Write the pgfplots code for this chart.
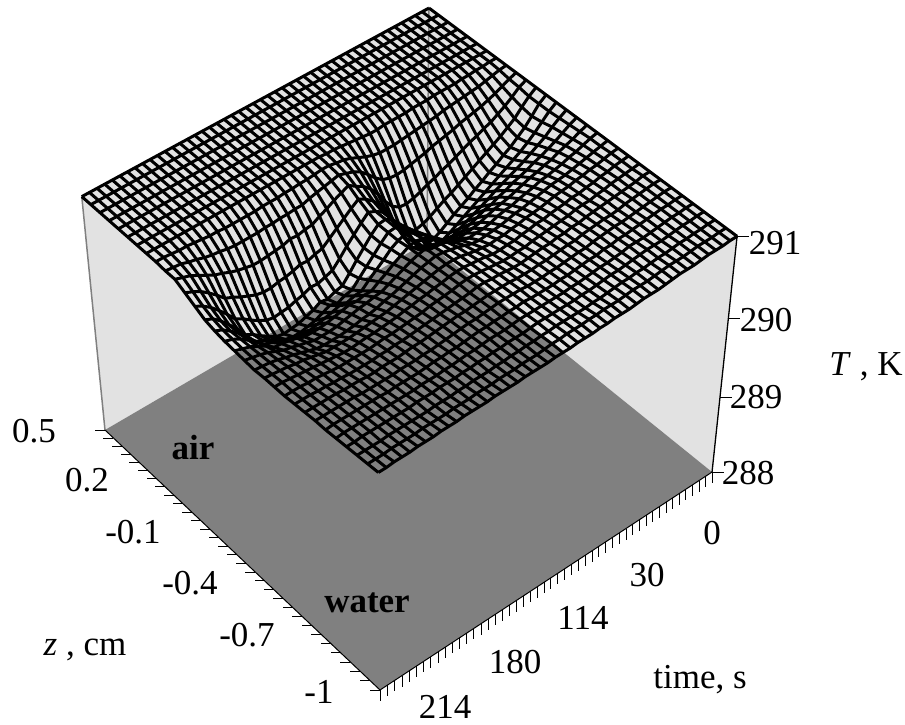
\documentclass[border=0pt]{standalone}
\usepackage{fontspec}
\setmainfont{Liberation Serif}
\usepackage{pgfplots}
\usepackage{pgfplotstable}
\pgfplotsset{compat=1.18}
\definecolor{wallc}{HTML}{E2E2E2}
\definecolor{floorc}{HTML}{808080}
\pgfdeclareplotmark{tickL}{\pgfpathmoveto{\pgfpointorigin}\pgfpathlineto{\pgfpoint{-10pt}{0pt}}\pgfusepathqstroke}
\pgfdeclareplotmark{tickD}{\pgfpathmoveto{\pgfpointorigin}\pgfpathlineto{\pgfpoint{0pt}{-11pt}}\pgfusepathqstroke}
\pgfdeclareplotmark{tickR}{\pgfpathmoveto{\pgfpointorigin}\pgfpathlineto{\pgfpoint{12pt}{0pt}}\pgfusepathqstroke}
% T (K): one line per z (0.5 ... -1 cm, step 0.05), one column per time tick (0 ... 48)
\pgfplotstableread[header=false]{291 291 291 291 291 291 291 291 291 291 291 291 291 291 291 291 291 291 291 291 291 291 291 291 291 291 291 291 291 291 291 291 291 291 291 291 291 291 291 291 291 291 291 291 291 291 291 291 291
291 291 291 291 291 291 291 291 291 291 291 291 291 291 291 291 291 291 291 291 291 291 291 291 291 291 291 291 291 291 291 291 291 291 291 291 291 291 291 291 291 291 291 291 291 291 291 291 291
291 291 291 291 291 291 291 291 291 291 291 291 291 291 291 291 291 291 291 291 291 291 291 291 291 291 291 291 291 291 291 291 291 291 291 291 291 291 291 291 291 291 291 291 291 291 291 291 291
291 291 291 291 291 291 291 291 291 291 291 291 291 291 291 291 291 291 291 291 291 291 291 291 291 291 291 291 291 291 291 291 291 291 291 291 291 291 291 291 291 291 291 291 291 291 291 291 291
291 291 291 291 291 291 291 291 291 291 291 291 291 291 291 291 291 291 291 291 291 291 291 291 291 291 291 291 291 291 291 291 291 291 291 291 291 291 291 291 291 291 291 291 291 291 291 291 291
291 291 291 291 291 291 291 291 291 291 291 291 291 291 291 291 291 291 291 291 291 291 291 291 291 291 291 291 291 291 291 291 291 291 291 291 291 291 291 291 291 291 291 291 291 291 291 291 291
291 291 291 291 291 291 291 291 291 291 291 291 291 291 291 291 291 291 291 291 291 291 291 291 291 291 291 291 291 291 291 291 291 291 291 291 291 291 291 291 291 291 291 291 291 291 291 291 291
291.00 291.00 290.99 290.99 290.98 290.98 290.97 290.97 290.97 290.97 290.96 290.96 290.96 290.95 290.95 290.95 290.95 290.94 290.94 290.95 290.96 290.97 290.98 290.99 290.99 291 291 291 291 291 291 291 291 291 291 291 291 291 291 291 291 291 291 291 291 291 291 291 291
291.00 290.99 290.97 290.95 290.93 290.92 290.91 290.90 290.89 290.88 290.86 290.85 290.84 290.83 290.82 290.81 290.80 290.80 290.80 290.82 290.85 290.89 290.93 290.96 290.97 290.99 290.99 290.98 290.97 290.97 290.96 290.96 290.95 290.95 290.95 290.94 290.94 290.94 290.94 290.94 290.95 290.95 290.96 290.97 290.98 290.98 290.99 291.00 291.00
291.00 290.97 290.93 290.89 290.86 290.83 290.81 290.79 290.77 290.74 290.72 290.70 290.68 290.65 290.63 290.61 290.59 290.58 290.59 290.62 290.69 290.78 290.86 290.91 290.94 290.97 290.95 290.93 290.91 290.89 290.86 290.86 290.85 290.85 290.84 290.84 290.83 290.83 290.83 290.83 290.84 290.86 290.87 290.89 290.92 290.94 290.97 290.98 290.99
291.00 290.96 290.89 290.83 290.78 290.73 290.70 290.66 290.63 290.59 290.55 290.51 290.48 290.44 290.41 290.37 290.34 290.32 290.33 290.39 290.50 290.64 290.75 290.83 290.88 290.94 290.90 290.86 290.81 290.77 290.72 290.71 290.69 290.70 290.67 290.66 290.65 290.64 290.64 290.66 290.68 290.71 290.75 290.78 290.83 290.88 290.93 290.96 290.99
291.00 290.94 290.86 290.77 290.71 290.65 290.60 290.55 290.50 290.45 290.40 290.35 290.30 290.26 290.21 290.16 290.12 290.10 290.10 290.17 290.32 290.50 290.65 290.75 290.82 290.87 290.81 290.74 290.67 290.60 290.53 290.51 290.48 290.49 290.46 290.44 290.43 290.41 290.41 290.43 290.47 290.51 290.56 290.60 290.69 290.77 290.84 290.89 290.93
291.00 290.94 290.84 290.75 290.68 290.61 290.56 290.50 290.45 290.39 290.34 290.28 290.23 290.18 290.12 290.06 290.02 290.00 290.00 290.08 290.24 290.43 290.59 290.71 290.77 290.81 290.73 290.64 290.55 290.45 290.36 290.33 290.30 290.31 290.27 290.25 290.22 290.21 290.20 290.22 290.27 290.33 290.40 290.45 290.56 290.66 290.75 290.82 290.87
291.00 290.94 290.86 290.78 290.71 290.65 290.60 290.55 290.50 290.45 290.40 290.35 290.30 290.25 290.20 290.15 290.11 290.09 290.09 290.16 290.30 290.47 290.61 290.71 290.77 290.76 290.68 290.58 290.48 290.37 290.27 290.25 290.21 290.23 290.18 290.15 290.12 290.11 290.10 290.12 290.18 290.24 290.31 290.36 290.49 290.59 290.69 290.77 290.81
291.00 290.95 290.89 290.82 290.77 290.72 290.67 290.63 290.59 290.55 290.51 290.46 290.42 290.38 290.34 290.30 290.26 290.25 290.25 290.30 290.41 290.54 290.65 290.73 290.77 290.76 290.68 290.59 290.50 290.41 290.32 290.30 290.26 290.29 290.25 290.21 290.19 290.17 290.17 290.19 290.24 290.29 290.34 290.38 290.49 290.59 290.67 290.74 290.78
291.00 290.96 290.91 290.86 290.82 290.78 290.75 290.71 290.68 290.65 290.61 290.58 290.54 290.52 290.48 290.45 290.42 290.41 290.40 290.44 290.52 290.62 290.70 290.75 290.79 290.76 290.71 290.63 290.56 290.49 290.41 290.40 290.37 290.39 290.36 290.34 290.32 290.30 290.30 290.31 290.34 290.39 290.42 290.45 290.54 290.61 290.68 290.73 290.76
291.00 290.97 290.93 290.90 290.87 290.83 290.81 290.78 290.76 290.73 290.70 290.67 290.65 290.63 290.60 290.57 290.55 290.54 290.53 290.56 290.61 290.68 290.74 290.78 290.80 290.78 290.73 290.68 290.62 290.57 290.51 290.51 290.49 290.50 290.48 290.46 290.44 290.43 290.43 290.43 290.47 290.49 290.51 290.52 290.59 290.64 290.69 290.72 290.75
291.00 290.98 290.95 290.92 290.90 290.87 290.85 290.83 290.82 290.79 290.77 290.75 290.72 290.71 290.69 290.66 290.64 290.64 290.63 290.65 290.68 290.73 290.77 290.79 290.81 290.79 290.76 290.72 290.68 290.64 290.60 290.59 290.57 290.56 290.54 290.52 290.50 290.49 290.49 290.49 290.52 290.54 290.57 290.59 290.63 290.67 290.70 290.72 290.74
291.00 290.98 290.96 290.94 290.92 290.90 290.88 290.87 290.86 290.84 290.82 290.80 290.78 290.77 290.75 290.73 290.72 290.71 290.70 290.71 290.74 290.77 290.79 290.81 290.82 290.80 290.78 290.75 290.72 290.69 290.66 290.64 290.61 290.59 290.58 290.56 290.55 290.54 290.54 290.54 290.55 290.58 290.61 290.64 290.66 290.69 290.71 290.72 290.73
291.00 290.99 290.97 290.95 290.94 290.92 290.91 290.89 290.88 290.87 290.85 290.83 290.82 290.81 290.79 290.78 290.76 290.76 290.75 290.76 290.77 290.79 290.81 290.82 290.82 290.81 290.79 290.77 290.75 290.73 290.71 290.69 290.67 290.66 290.65 290.64 290.63 290.62 290.62 290.62 290.62 290.64 290.66 290.68 290.69 290.71 290.72 290.73 290.74
291.00 290.99 290.98 290.96 290.95 290.93 290.92 290.90 290.90 290.88 290.87 290.86 290.84 290.84 290.82 290.81 290.79 290.79 290.78 290.78 290.80 290.81 290.82 290.83 290.83 290.82 290.80 290.79 290.77 290.76 290.74 290.73 290.71 290.70 290.69 290.68 290.68 290.67 290.66 290.66 290.67 290.68 290.69 290.70 290.71 290.72 290.73 290.74 290.74
291.00 290.99 290.98 290.97 290.96 290.94 290.93 290.91 290.91 290.90 290.88 290.87 290.86 290.85 290.84 290.83 290.81 290.81 290.80 290.80 290.81 290.82 290.83 290.84 290.84 290.83 290.81 290.80 290.79 290.78 290.76 290.75 290.74 290.73 290.72 290.72 290.71 290.70 290.70 290.70 290.70 290.70 290.71 290.72 290.73 290.73 290.74 290.74 290.74
291.00 291.00 290.98 290.97 290.96 290.95 290.94 290.93 290.92 290.91 290.89 290.89 290.87 290.87 290.85 290.85 290.84 290.83 290.82 290.82 290.83 290.84 290.84 290.85 290.85 290.83 290.82 290.81 290.80 290.79 290.78 290.77 290.76 290.75 290.74 290.74 290.73 290.73 290.72 290.72 290.72 290.72 290.73 290.73 290.74 290.74 290.75 290.75 290.75
291.00 291.00 290.99 290.98 290.97 290.96 290.94 290.93 290.93 290.92 290.91 290.90 290.88 290.88 290.87 290.86 290.85 290.85 290.84 290.84 290.84 290.85 290.85 290.85 290.85 290.84 290.83 290.82 290.82 290.81 290.80 290.79 290.78 290.77 290.77 290.76 290.75 290.75 290.75 290.74 290.74 290.75 290.75 290.75 290.76 290.76 290.76 290.76 290.76
291.00 291.00 290.99 290.98 290.97 290.96 290.95 290.94 290.94 290.93 290.92 290.91 290.89 290.89 290.88 290.87 290.86 290.86 290.85 290.85 290.85 290.86 290.86 290.86 290.86 290.85 290.84 290.83 290.83 290.82 290.81 290.80 290.79 290.78 290.78 290.77 290.77 290.77 290.76 290.76 290.76 290.76 290.76 290.77 290.77 290.77 290.77 290.77 290.77
291.00 291.00 290.99 290.99 290.98 290.97 290.96 290.95 290.94 290.94 290.92 290.92 290.90 290.90 290.89 290.88 290.87 290.87 290.86 290.86 290.86 290.86 290.87 290.86 290.86 290.85 290.85 290.84 290.84 290.83 290.82 290.81 290.81 290.80 290.80 290.79 290.78 290.78 290.78 290.78 290.77 290.78 290.78 290.78 290.78 290.78 290.78 290.78 290.77
291.00 291.00 290.99 290.99 290.98 290.97 290.96 290.95 290.95 290.95 290.93 290.92 290.91 290.91 290.90 290.89 290.88 290.88 290.87 290.87 290.87 290.87 290.87 290.87 290.87 290.86 290.85 290.85 290.85 290.84 290.83 290.83 290.82 290.81 290.81 290.80 290.80 290.80 290.79 290.79 290.79 290.79 290.79 290.79 290.79 290.79 290.79 290.79 290.78
291.00 291.00 290.99 290.99 290.98 290.97 290.96 290.96 290.96 290.95 290.94 290.93 290.92 290.92 290.91 290.90 290.89 290.89 290.88 290.88 290.88 290.88 290.88 290.88 290.87 290.86 290.86 290.86 290.85 290.85 290.84 290.84 290.83 290.83 290.82 290.82 290.82 290.81 290.81 290.81 290.80 290.80 290.80 290.80 290.80 290.80 290.80 290.79 290.79
291.00 291.00 290.99 290.99 290.98 290.98 290.97 290.96 290.96 290.95 290.94 290.94 290.93 290.93 290.92 290.91 290.90 290.90 290.89 290.89 290.89 290.89 290.89 290.88 290.88 290.87 290.87 290.86 290.86 290.85 290.85 290.84 290.84 290.84 290.83 290.83 290.82 290.82 290.82 290.81 290.81 290.81 290.81 290.81 290.81 290.80 290.80 290.80 290.80
291.00 291.00 290.99 290.99 290.99 290.98 290.97 290.97 290.97 290.96 290.95 290.94 290.94 290.94 290.93 290.92 290.92 290.92 290.91 290.91 290.90 290.90 290.90 290.89 290.89 290.88 290.87 290.87 290.87 290.86 290.86 290.86 290.85 290.85 290.85 290.84 290.84 290.84 290.83 290.83 290.83 290.83 290.82 290.82 290.82 290.82 290.81 290.81 290.81
291.00 291.00 290.99 290.99 290.99 290.98 290.97 290.97 290.97 290.96 290.95 290.94 290.94 290.94 290.93 290.92 290.92 290.92 290.91 290.91 290.90 290.90 290.90 290.89 290.89 290.89 290.88 290.88 290.88 290.88 290.87 290.87 290.87 290.87 290.86 290.86 290.86 290.86 290.85 290.85 290.85 290.84 290.84 290.84 290.83 290.83 290.83 290.82 290.82
}\Ttab
\pgfplotstabletranspose\TtabT{\Ttab}
\pgfplotsset{
  /pgfplots/table/cube/.style={
    x expr={cx(\thisrow{s},\thisrow{r},\thisrow{w})},
    y expr={cy(\thisrow{s},\thisrow{r},\thisrow{w})}},
  gridline/.style={black,line width=3pt,line join=round,no marks,forget plot}
}
\begin{document}
\begin{tikzpicture}[every node/.style={font=\fontsize{35}{38}\selectfont,inner sep=0pt,text=black}]
\useasboundingbox (0,0) rectangle (905pt,724pt);
\begin{axis}[scale only axis,width=905pt,height=724pt,
  xmin=0,xmax=905,ymin=0,ymax=724,hide axis,clip=false,
  declare function={
    cd(\a,\b,\c)=1-0.0532*\a-0.0742*\b-0.0689*\c;
    cx(\a,\b,\c)=(427-327.6*\a+232.2*\b-27.6*\c)/cd(\a,\b,\c);
    cy(\a,\b,\c)=724-(242+165.1*\a+195*\b-234.5*\c)/cd(\a,\b,\c);
  }]
% walls
\addplot[fill=wallc,draw=none,forget plot] table[cube]{
s r w
1 0 0
1 0 1
0 0 1
0 0 0
} --cycle;
\addplot[fill=wallc,draw=none,forget plot] table[cube]{
s r w
0 0 0
0 0 1
0 1 1
0 1 0
} --cycle;
% floor
\addplot[fill=floorc,draw=none,forget plot] table[cube]{
s r w
0 0 0
1 0 0
1 1 0
0 1 0
} --cycle;
% box edges
\addplot[color=floorc,line width=1.5pt,no marks,forget plot] table[cube]{
s r w
1 0 0
1 0 1
};
\addplot[color=floorc,line width=1.5pt,no marks,forget plot] table[cube]{
s r w
0 0 0
0 0 1
};
\addplot[black,line width=1.3pt,no marks,forget plot] table[cube]{
s r w
0 1 0
0 1 1
};
\addplot[black,line width=1pt,no marks,forget plot] table[cube]{
s r w
1 0 0
1 1 0
0 1 0
};
% surface: lines of constant time
\pgfplotsinvokeforeach{0,...,48}{
  \addplot[gridline] table[
    x expr={cx(#1/48,\coordindex/30,(\thisrow{#1}-288)/3)},
    y expr={cy(#1/48,\coordindex/30,(\thisrow{#1}-288)/3)}]{\Ttab};
}
% surface: lines of constant z
\pgfplotsinvokeforeach{0,...,30}{
  \addplot[gridline] table[
    x expr={cx(\coordindex/48,#1/30,(\thisrow{#1}-288)/3)},
    y expr={cy(\coordindex/48,#1/30,(\thisrow{#1}-288)/3)}]{\TtabT};
}
% ticks
\addplot[only marks,mark=tickL,mark options={draw=black,line width=0.9pt},forget plot] table[
  x expr={cx(1,(0.5-\thisrow{z})/1.5,0)},y expr={cy(1,(0.5-\thisrow{z})/1.5,0)}]{
z
0.5
0.45
0.4
0.35
0.3
0.25
0.2
0.15
0.1
0.05
0
-0.05
-0.1
-0.15
-0.2
-0.25
-0.3
-0.35
-0.4
-0.45
-0.5
-0.55
-0.6
-0.65
-0.7
-0.75
-0.8
-0.85
-0.9
-0.95
-1
};
\addplot[only marks,mark=tickD,mark options={draw=black,line width=0.9pt},forget plot] table[
  x expr={cx(\coordindex/48,1,0)},y expr={cy(\coordindex/48,1,0)}]{
i
0
1
2
3
4
5
6
7
8
9
10
11
12
13
14
15
16
17
18
19
20
21
22
23
24
25
26
27
28
29
30
31
32
33
34
35
36
37
38
39
40
41
42
43
44
45
46
47
48
};
\addplot[only marks,mark=tickR,mark options={draw=black,line width=1pt},forget plot] table[
  x expr={cx(0,1,(\thisrow{T}-288)/3)},y expr={cy(0,1,(\thisrow{T}-288)/3)}]{
T
288
289
290
291
};
% labels
\node at (axis cs:34,293) {0.5};
\node at (axis cs:87,244) {0.2};
\node at (axis cs:133,192) {-0.1};
\node at (axis cs:190,141) {-0.4};
\node at (axis cs:247,89) {-0.7};
\node at (axis cs:319,32) {-1};
\node at (axis cs:85,74) {\textit{z} , cm};
\node at (axis cs:193,276) {\textbf{air}};
\node at (axis cs:367,121) {\textbf{water}};
\node at (axis cs:712,191) {0};
\node at (axis cs:647,149) {30};
\node at (axis cs:583,106) {114};
\node at (axis cs:515,62) {180};
\node at (axis cs:445,17) {214};
\node at (axis cs:700,44) {time, s};
\node at (axis cs:775,481) {291};
\node at (axis cs:766,404) {290};
\node at (axis cs:756,327) {289};
\node at (axis cs:748,251) {288};
\node at (axis cs:866,357) {\textit{T} , K};
\end{axis}
\end{tikzpicture}
\end{document}
